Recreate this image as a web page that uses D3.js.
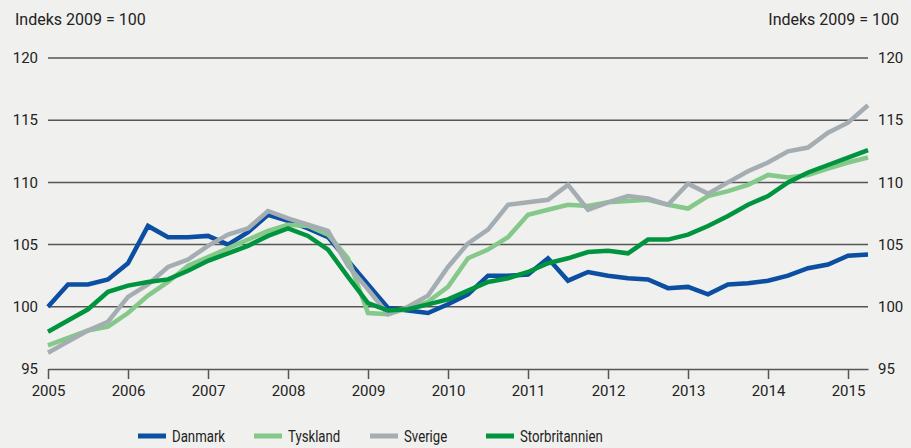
<!DOCTYPE html>
<html>
<head>
<meta charset="utf-8">
<script src="https://cdn.jsdelivr.net/npm/d3@7"></script>
<style>
  html, body { margin: 0; padding: 0; background: #f0f0ee; }
  svg { display: block; }
  text { font-family: Roboto, "Noto Sans", sans-serif; fill: #222; }
</style>
</head>
<body>
<svg id="chart"></svg>
<script>
const width = 911;
const height = 448;

// quarters 2005K1 .. 2015K2
const quarters = [
  "2005K1","2005K2","2005K3","2005K4","2006K1","2006K2","2006K3","2006K4",
  "2007K1","2007K2","2007K3","2007K4","2008K1","2008K2","2008K3","2008K4",
  "2009K1","2009K2","2009K3","2009K4","2010K1","2010K2","2010K3","2010K4",
  "2011K1","2011K2","2011K3","2011K4","2012K1","2012K2","2012K3","2012K4",
  "2013K1","2013K2","2013K3","2013K4","2014K1","2014K2","2014K3","2014K4",
  "2015K1","2015K2"
];

const seriesNames = ["Danmark", "Tyskland", "Sverige", "Storbritannien"];
const seriesColors = ["#0b4ea2", "#84c88a", "#a3adb2", "#00943f"];

const danmark = [100.0, 101.8, 101.8, 102.2, 103.5, 106.5, 105.6, 105.6, 105.7, 105.0,
  106.0, 107.4, 106.9, 106.3, 105.6, 103.7, 101.8, 99.9, 99.7, 99.5,
  100.2, 101.0, 102.5, 102.5, 102.6, 103.9, 102.1, 102.8, 102.5, 102.3,
  102.2, 101.5, 101.6, 101.0, 101.8, 101.9, 102.1, 102.5, 103.1, 103.4,
  104.1, 104.2];
const tyskland = [96.9, 97.5, 98.1, 98.4, 99.5, 100.9, 102.0, 103.3, 104.0, 104.7,
  105.4, 106.1, 106.6, 106.5, 105.8, 103.9, 99.5, 99.4, 99.9, 100.4,
  101.6, 103.9, 104.6, 105.6, 107.4, 107.8, 108.2, 108.1, 108.4, 108.5,
  108.6, 108.2, 107.9, 108.9, 109.3, 109.8, 110.6, 110.4, 110.6, 111.1,
  111.6, 112.0];
const sverige = [96.3, 97.2, 98.1, 98.8, 100.8, 101.8, 103.2, 103.8, 104.9, 105.8,
  106.3, 107.7, 107.1, 106.6, 106.1, 103.3, 101.4, 99.4, 100.0, 100.9,
  103.2, 105.1, 106.2, 108.2, 108.4, 108.6, 109.8, 107.8, 108.4, 108.9,
  108.7, 108.2, 109.9, 109.1, 110.0, 110.9, 111.6, 112.5, 112.8, 114.0,
  114.8, 116.2];
const storbritannien = [98.0, 98.9, 99.8, 101.2, 101.7, 102.0, 102.2, 102.9, 103.7, 104.3,
  104.9, 105.7, 106.3, 105.7, 104.6, 102.4, 100.3, 99.7, 99.8, 100.2,
  100.6, 101.3, 102.0, 102.3, 102.8, 103.5, 103.9, 104.4, 104.5, 104.3,
  105.4, 105.4, 105.8, 106.5, 107.3, 108.2, 108.9, 110.0, 110.8, 111.4,
  112.0, 112.6];

const yTicks = [95, 100, 105, 110, 115, 120];
const xTicks = [2005, 2006, 2007, 2008, 2009, 2010, 2011, 2012, 2013, 2014, 2015];
const axisTitle = "Indeks 2009 = 100";

const allSeries = [danmark, tyskland, sverige, storbritannien];

const toTime = q => +q.slice(0, 4) + (+q.slice(5) - 1) / 4;

const svg = d3.select("#chart")
  .attr("width", width)
  .attr("height", height);

const x = d3.scaleLinear().domain([2005, 2015.25]).range([48, 868]);
const y = d3.scaleLinear().domain([95, 120]).range([369, 58]);

// gridlines
svg.append("g")
  .selectAll("line")
  .data(yTicks.filter(d => d > 95))
  .join("line")
  .attr("x1", x.range()[0])
  .attr("x2", x.range()[1])
  .attr("y1", d => y(d))
  .attr("y2", d => y(d))
  .attr("stroke", "#555")
  .attr("stroke-width", 1.5);

// left and right value labels
svg.append("g")
  .selectAll("text")
  .data(yTicks)
  .join("text")
  .attr("x", 38)
  .attr("y", d => y(d))
  .attr("dy", "0.35em")
  .attr("text-anchor", "end")
  .attr("font-size", "15px")
  .text(d => d);

svg.append("g")
  .selectAll("text")
  .data(yTicks)
  .join("text")
  .attr("x", 878)
  .attr("y", d => y(d))
  .attr("dy", "0.35em")
  .attr("text-anchor", "start")
  .attr("font-size", "15px")
  .text(d => d);

// bottom axis
const xAxis = d3.axisBottom(x)
  .tickValues(xTicks)
  .tickFormat(d3.format("d"))
  .tickSize(10)
  .tickSizeOuter(0)
  .tickPadding(6);

const gx = svg.append("g")
  .attr("transform", `translate(0,${y(95)})`)
  .call(xAxis);
gx.select(".domain").attr("stroke", "#555").attr("stroke-width", 1.5);
gx.selectAll(".tick line").attr("stroke", "#555").attr("stroke-width", 1.5);
gx.selectAll(".tick text")
  .attr("font-size", "15px")
  .attr("font-family", "Roboto, sans-serif")
  .attr("fill", "#222");

// axis titles
svg.append("text")
  .attr("x", 15)
  .attr("y", 25)
  .attr("font-size", "16px")
  .text(axisTitle);
svg.append("text")
  .attr("x", 899)
  .attr("y", 25)
  .attr("text-anchor", "end")
  .attr("font-size", "16px")
  .text(axisTitle);

// lines
const line = d3.line()
  .x((d, i) => x(toTime(quarters[i])))
  .y(d => y(d));

svg.append("g")
  .selectAll("path")
  .data(allSeries)
  .join("path")
  .attr("d", line)
  .attr("fill", "none")
  .attr("stroke", (d, i) => seriesColors[i])
  .attr("stroke-width", 4.5)
  .attr("stroke-linejoin", "miter");

// legend
const legend = svg.append("g")
  .attr("transform", "translate(138, 436)");

const item = legend.selectAll("g")
  .data(seriesNames)
  .join("g")
  .attr("transform", (d, i) => `translate(${i * 116}, 0)`);

item.append("line")
  .attr("x1", 0)
  .attr("x2", 28)
  .attr("stroke", (d, i) => seriesColors[i])
  .attr("stroke-width", 5);

// condensed look: squeeze Roboto horizontally
item.append("text")
  .attr("transform", "translate(34,0) scale(0.8,1)")
  .attr("dy", "0.36em")
  .attr("font-size", "16.5px")
  .text(d => d);
</script>
</body>
</html>
